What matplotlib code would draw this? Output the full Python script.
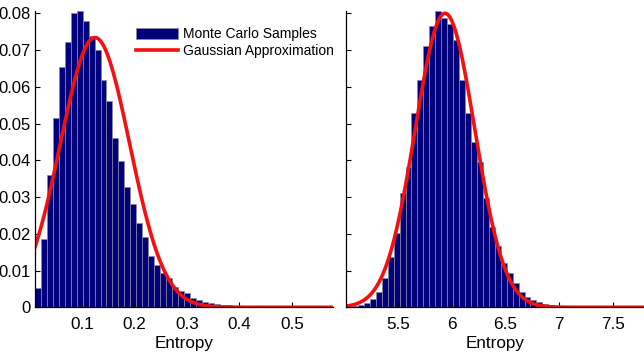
import matplotlib
matplotlib.use('Agg')
import matplotlib.pyplot as plt
import numpy as np

plt.rcParams['font.family'] = ['Liberation Sans', 'DejaVu Sans']

# ---- data ----
# left panel: 50-bin histogram of sample entropies (fraction of samples per bin)
left_range = (0.0105, 0.578)
left_hist = [0.0052, 0.0185, 0.0360, 0.0516, 0.0655, 0.0723, 0.0802, 0.0806, 0.0780, 0.0738,
             0.0700, 0.0619, 0.0562, 0.0460, 0.0398, 0.0328, 0.0280, 0.0229, 0.0192, 0.0140,
             0.0115, 0.0094, 0.0079, 0.0055, 0.0045, 0.0038, 0.0024, 0.0019, 0.0015, 0.0012,
             0.0009, 0.0007, 0.0005, 0.0004, 0.0003, 0.0002, 0.0002, 0.0001, 0.0001, 0.0001,
             0.0, 0.0, 0.0, 0.0, 0.0, 0.0, 0.0, 0.0, 0.0, 0.0]
left_gauss = dict(peak=0.0734, mean=0.1248, sd=0.066)
left_xticks = [0.1, 0.2, 0.3, 0.4, 0.5]

# right panel
right_range = (5.01, 7.79)
right_hist = [0.0002, 0.0003, 0.0006, 0.0013, 0.0023, 0.0043, 0.0079, 0.0136, 0.0201, 0.0310,
              0.0383, 0.0528, 0.0619, 0.0711, 0.0765, 0.0806, 0.0786, 0.0771, 0.0727, 0.0619,
              0.0528, 0.0451, 0.0395, 0.0297, 0.0219, 0.0167, 0.0120, 0.0092, 0.0065, 0.0043,
              0.0029, 0.0020, 0.0015, 0.0009, 0.0006, 0.0004, 0.0003, 0.0002, 0.0001, 0.0001,
              0.0001, 0.0, 0.0, 0.0, 0.0, 0.0, 0.0, 0.0, 0.0, 0.0]
right_gauss = dict(peak=0.080, mean=5.935, sd=0.278)
right_xticks = [5.5, 6, 6.5, 7, 7.5]
right_xticklabels = ['5.5', '6', '6.5', '7', '7.5']

yticks = [0, 0.01, 0.02, 0.03, 0.04, 0.05, 0.06, 0.07, 0.08]
yticklabels = ['0', '0.01', '0.02', '0.03', '0.04', '0.05', '0.06', '0.07', '0.08']

NAVY = '#00007c'
RED = '#f21010'

fig = plt.figure(figsize=(6.44, 3.58), dpi=100)
ax1 = fig.add_axes([0.0543, 0.1416, 0.4627, 0.8274])
ax2 = fig.add_axes([0.5373, 0.1416, 0.4620, 0.8274])


def draw_panel(ax, rng, hist, g):
    edges = np.linspace(rng[0], rng[1], len(hist) + 1)
    bars = ax.bar(edges[:-1], hist, width=np.diff(edges), align='edge',
                  color=NAVY, edgecolor='#8a8aa0', linewidth=0.5,
                  label='Monte Carlo Samples')
    xs = np.linspace(rng[0], rng[1], 400)
    ys = g['peak'] * np.exp(-(xs - g['mean']) ** 2 / (2 * g['sd'] ** 2))
    line, = ax.plot(xs, ys, color=RED, lw=2.6, label='Gaussian Approximation')
    ax.set_xlim(rng)
    ax.set_ylim(0, 0.0806)
    ax.set_yticks(yticks)
    for s in ['top', 'right']:
        ax.spines[s].set_visible(False)
    for s in ['left', 'bottom']:
        ax.spines[s].set_linewidth(0.9)
    ax.tick_params(direction='in', length=3.5, width=0.8, labelsize=12.3)
    ax.tick_params(axis='x', pad=7)
    ax.tick_params(axis='y', pad=3, labelsize=12)
    ax.set_xlabel('Entropy', fontsize=12.3, labelpad=3)
    return bars, line


bars, line = draw_panel(ax1, left_range, left_hist, left_gauss)
ax1.set_xticks(left_xticks)
ax1.set_yticklabels(yticklabels)

draw_panel(ax2, right_range, right_hist, right_gauss)
ax2.set_xticks(right_xticks)
ax2.set_xticklabels(right_xticklabels)
ax2.set_yticklabels([])

fig.legend([bars, line], ['Monte Carlo Samples', 'Gaussian Approximation'],
           loc='upper left', bbox_to_anchor=(136 / 644, 1 - 27 / 358),
           frameon=False, fontsize=10, handlelength=3.0, handleheight=0.85,
           handletextpad=0.35, labelspacing=0.25, borderpad=0, borderaxespad=0)

fig.savefig('out.png', dpi=100)
